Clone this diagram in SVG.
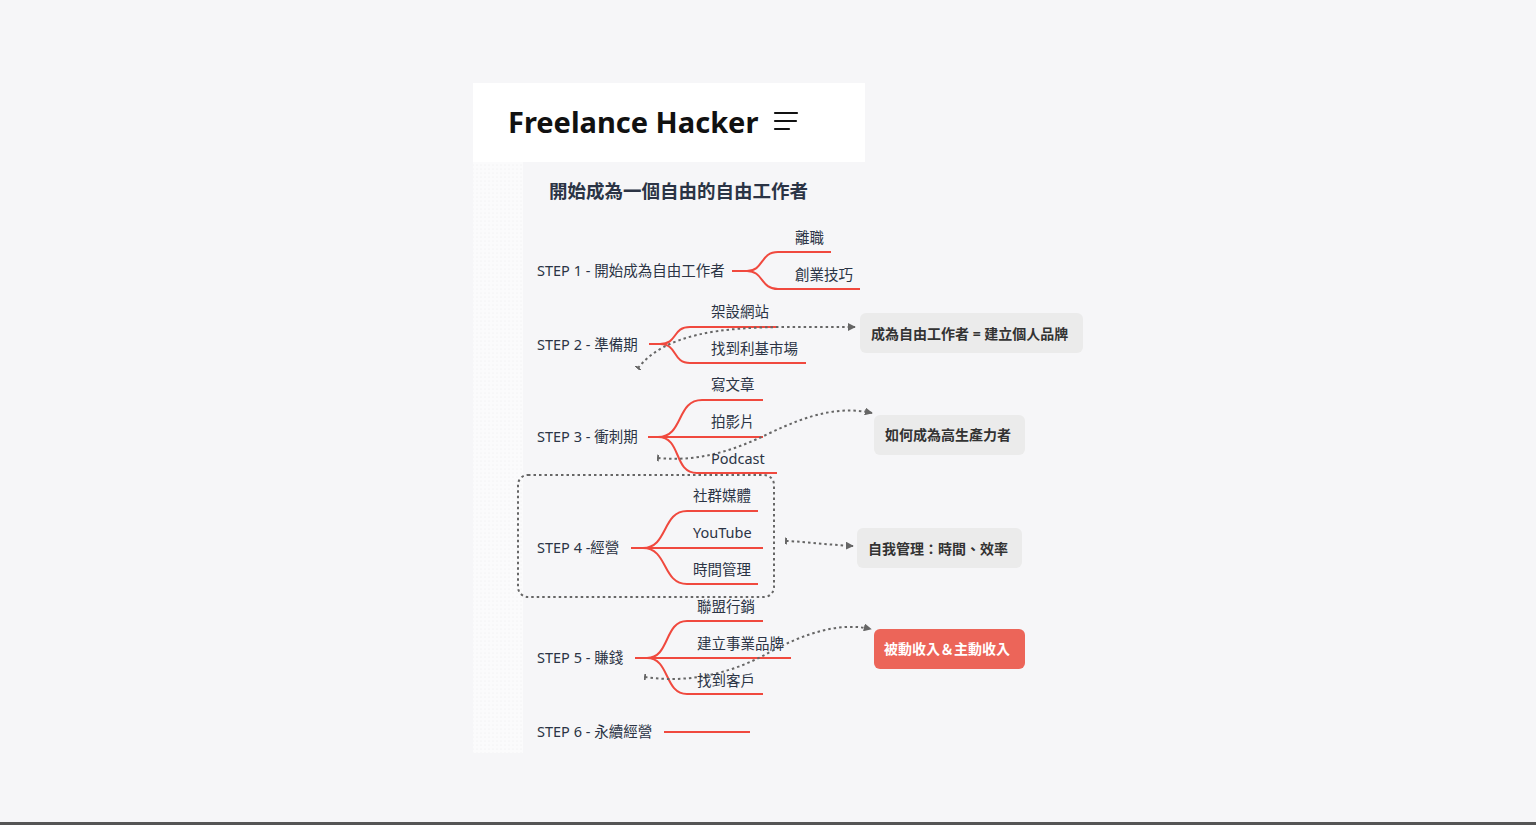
<svg xmlns="http://www.w3.org/2000/svg" width="1536" height="825" viewBox="0 0 1536 825">
<defs>
<style>
.bg{fill:#f6f6f8}
.title{font-family:"Noto Sans","Liberation Sans",sans-serif;font-weight:700;font-size:29px;fill:#111}
.sub{font-family:"Noto Sans","Noto Sans CJK TC",sans-serif;font-weight:700;font-size:18.5px;fill:#2b3445}
.lbl{font-family:"Noto Sans","Noto Sans CJK TC",sans-serif;font-size:14.5px;fill:#2b3445;dominant-baseline:central}
.br{fill:none;stroke:#f0493e;stroke-width:2}
.rel{fill:none;stroke:#666;stroke-width:2;stroke-dasharray:2.5 3}
.box{fill:#ebebeb}
.boxr{fill:#ec6559}
.ct{font-family:"Noto Sans","Noto Sans CJK TC",sans-serif;font-weight:700;font-size:14px;fill:#333;dominant-baseline:central}
.ctw{font-family:"Noto Sans","Noto Sans CJK TC",sans-serif;font-weight:700;font-size:14px;fill:#fff;dominant-baseline:central}
.burger{stroke:#111;stroke-width:2.2;stroke-linecap:round}
</style>
<pattern id="dots" width="4" height="4" patternUnits="userSpaceOnUse">
<rect width="4" height="4" fill="#fbfbfc"/>
<circle cx="1" cy="1" r="0.6" fill="#ececef"/>
</pattern>
<marker id="arr" viewBox="0 0 10 10" refX="9" refY="5" markerWidth="4" markerHeight="4" orient="auto" markerUnits="strokeWidth">
<path d="M0,0 L10,5 L0,10 z" fill="#666"/>
</marker>
<marker id="tick" viewBox="0 0 2 7" refX="1" refY="3.5" markerWidth="1" markerHeight="3.5" orient="auto" markerUnits="strokeWidth">
<rect x="0" y="0" width="2" height="7" fill="#666"/>
</marker>
</defs>
<rect class="bg" x="0" y="0" width="1536" height="825"/>
<rect x="0" y="822" width="1536" height="3" fill="#555"/>
<g id="header">
<rect x="473" y="83" width="392" height="79" fill="#ffffff"/>
<text class="title" x="508" y="133">Freelance Hacker</text>
<line class="burger" x1="775" y1="113" x2="797" y2="113"/>
<line class="burger" x1="775" y1="121" x2="796" y2="121"/>
<line class="burger" x1="775" y1="129" x2="789" y2="129"/>
</g>
<rect x="473" y="162" width="50" height="591" fill="url(#dots)"/>
<g id="subtitle"><text class="sub" x="549" y="198">開始成為一個自由的自由工作者</text></g>
<g id="boundary"><rect x="518" y="475" width="256" height="122" rx="10" fill="none" stroke="#666" stroke-width="2" stroke-dasharray="2.5 3"/></g>
<g id="connectors">
<path class="br" d="M732,271 L747,271 C764,271 760,252 778,252 L831,252"/>
<path class="br" d="M747,271 C764,271 760,289 778,289 L860,289"/>
<path class="br" d="M649,344 L660,344 C678,344 672,327 690,327 L777,327"/>
<path class="br" d="M660,344 C678,344 672,363 690,363 L806,363"/>
<path class="br" d="M648,437 L658,437 C684,437 676,400 702,400 L763,400"/>
<path class="br" d="M658,437 L763,437"/>
<path class="br" d="M658,437 C682,437 673,473 697,473 L777,473"/>
<path class="br" d="M631,548 L643,548 C668,548 662,511 687,511 L758,511"/>
<path class="br" d="M643,548 L763,548"/>
<path class="br" d="M643,548 C668,548 662,584 687,584 L758,584"/>
<path class="br" d="M635,658 L647,658 C670,658 664,621 687,621 L763,621"/>
<path class="br" d="M647,658 L791,658"/>
<path class="br" d="M647,658 C670,658 664,694 687,694 L763,694"/>
<path class="br" d="M664,732 L750,732"/>
<path class="rel" d="M638,368 C665,334 720,327 790,327 L855,327" marker-start="url(#tick)" marker-end="url(#arr)"/>
<path class="rel" d="M658,458 C700,462 735,450 770,433 C810,414 840,406 872,413" marker-start="url(#tick)" marker-end="url(#arr)"/>
<path class="rel" d="M786,541 C810,542 830,545 853,546" marker-start="url(#tick)" marker-end="url(#arr)"/>
<path class="rel" d="M645,677 C690,684 735,672 770,652 C805,633 840,622 871,629" marker-start="url(#tick)" marker-end="url(#arr)"/>
</g>
<g id="step1">
<text class="lbl" x="537" y="270">STEP 1 - 開始成為自由工作者</text>
<text class="lbl" x="795" y="237">離職</text>
<text class="lbl" x="795" y="274">創業技巧</text>
</g>
<g id="step2">
<text class="lbl" x="537" y="344">STEP 2 - 準備期</text>
<text class="lbl" x="711" y="311">架設網站</text>
<text class="lbl" x="711" y="348">找到利基市場</text>
</g>
<g id="step3">
<text class="lbl" x="537" y="436">STEP 3 - 衝刺期</text>
<text class="lbl" x="711" y="384">寫文章</text>
<text class="lbl" x="711" y="421">拍影片</text>
<text class="lbl" x="711" y="458">Podcast</text>
</g>
<g id="step4">
<text class="lbl" x="537" y="547">STEP 4 -經營</text>
<text class="lbl" x="693" y="495">社群媒體</text>
<text class="lbl" x="693" y="532">YouTube</text>
<text class="lbl" x="693" y="569">時間管理</text>
</g>
<g id="step5">
<text class="lbl" x="537" y="657">STEP 5 - 賺錢</text>
<text class="lbl" x="697" y="606">聯盟行銷</text>
<text class="lbl" x="697" y="643">建立事業品牌</text>
<text class="lbl" x="697" y="680">找到客戶</text>
</g>
<g id="step6">
<text class="lbl" x="537" y="731">STEP 6 - 永續經營</text>
</g>
<g id="callout1">
<rect class="box" x="860" y="313" width="223" height="40" rx="6"/>
<text class="ct" x="871" y="333">成為自由工作者 = 建立個人品牌</text>
</g>
<g id="callout2">
<rect class="box" x="874" y="415" width="151" height="40" rx="6"/>
<text class="ct" x="885" y="434">如何成為高生產力者</text>
</g>
<g id="callout3">
<rect class="box" x="857" y="528" width="165" height="40" rx="6"/>
<text class="ct" x="868" y="548">自我管理：時間、效率</text>
</g>
<g id="callout4">
<rect class="boxr" x="874" y="629" width="151" height="40" rx="6"/>
<text class="ctw" x="884" y="648">被動收入＆主動收入</text>
</g>
</svg>
